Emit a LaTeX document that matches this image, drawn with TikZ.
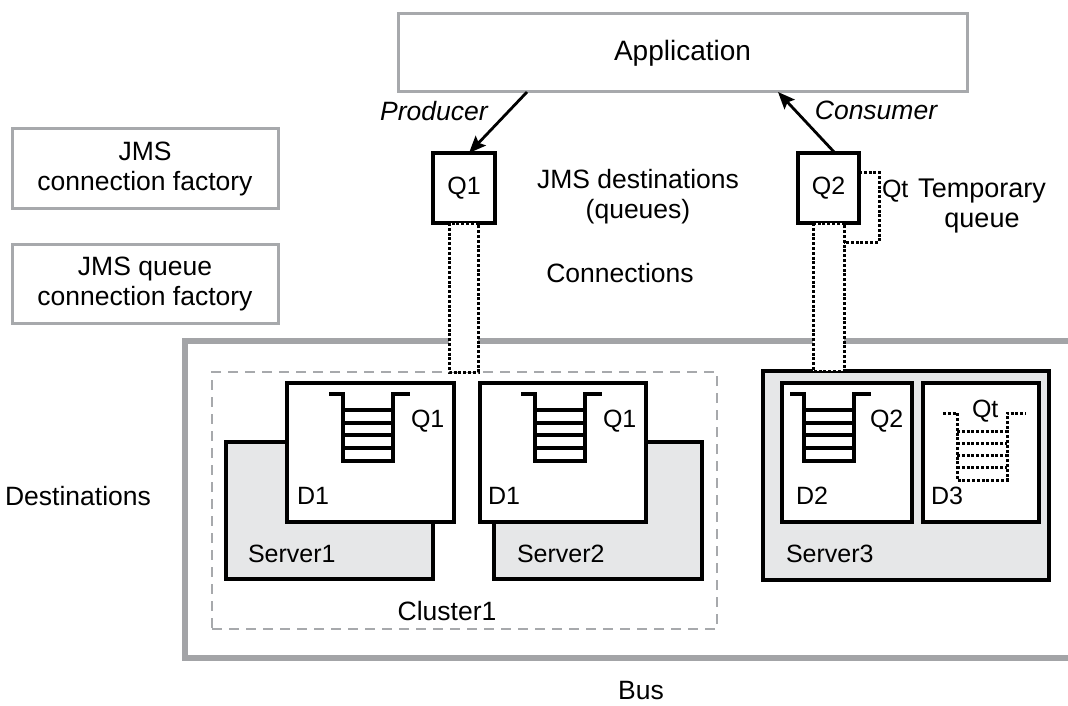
\documentclass[tikz,border=0pt]{standalone}
\usepackage{fontspec}
\setmainfont{Liberation Sans}
\usetikzlibrary{arrows.meta}
\definecolor{boxgray}{RGB}{167,169,172}
\definecolor{busgray}{RGB}{163,164,167}
\definecolor{servergray}{RGB}{230,231,232}
\begin{document}
\begin{tikzpicture}[x=1pt,y=-1pt,
  every node/.style={font=\fontsize{26.5}{30}\selectfont, inner sep=0pt, outer sep=0pt},
  small/.style={font=\fontsize{25}{30}\selectfont},
  big/.style={font=\fontsize{28}{30}\selectfont},
  itlabel/.style={font=\fontsize{26.5}{30}\selectfont\itshape},
  graybox/.style={draw=boxgray, line width=3pt, fill=white, anchor=north west, align=center},
  busbox/.style={draw=busgray, line width=5.5pt, anchor=north west},
  clusterbox/.style={draw=boxgray, line width=2.6pt, dash pattern=on 10pt off 7pt, anchor=north west},
  blackbox/.style={draw=black, line width=3.2pt, fill=white, anchor=north west},
  serverbox/.style={draw=black, line width=3.2pt, fill=servergray, anchor=north west},
  conn/.style={draw=black, line width=3pt, dash pattern=on 3pt off 1.8pt, fill=white},
  dotline/.style={draw=black, line width=3pt, dash pattern=on 3pt off 1.8pt},
  arr/.style={draw=black, line width=2.8pt, -{Stealth[length=17pt,width=14pt,inset=3pt]}},
  queue/.pic={
    \draw (0,0) -- (14,0) -- (14,67) -- (64,67) -- (64,0) -- (81,0);
    \foreach \yy in {16,29,41,54} \draw (14,\yy) -- (64,\yy);
  },
  qline/.style={line width=3.2pt, draw=black},
  qdot/.style={line width=3pt, draw=black, dash pattern=on 3pt off 1.8pt}
]
\useasboundingbox (0,0) rectangle (1068,706);
\clip (0,0) rectangle (1068,706);

% top part
\node[graybox, big, minimum width=569, minimum height=78] (app) at (398,14) {Application};
\node[graybox, minimum width=266, minimum height=79] (jcf) at (12,129) {JMS\\connection factory};
\node[graybox, minimum width=266, minimum height=79] (jqcf) at (12,244) {JMS queue\\connection factory};

\node[blackbox, small, minimum width=62, minimum height=70] (q1) at (433,153) {Q1};
\node[blackbox, small, minimum width=61, minimum height=70] (q2) at (798,153) {Q2};

% bus and cluster
\node[busbox, minimum width=930, minimum height=317] (bus) at (185,341) {};
\node[clusterbox, minimum width=505, minimum height=257] (cluster) at (212,372) {};

\node[serverbox, minimum width=207, minimum height=137] (server1) at (226,442) {};
\node[blackbox, minimum width=167, minimum height=139] (d1a) at (287,383) {};
\node[serverbox, minimum width=208, minimum height=137] (server2) at (494,442) {};
\node[blackbox, minimum width=166, minimum height=139] (d1b) at (480,383) {};
\node[serverbox, minimum width=286, minimum height=209] (server3) at (763,371) {};
\node[blackbox, minimum width=130, minimum height=139] (d2) at (782,383) {};
\node[blackbox, minimum width=116, minimum height=139] (d3) at (923,383) {};

% queue glyphs
\pic[qline] at (329,394) {queue};
\pic[qline] at (521,394) {queue};
\pic[qline] at (790,394) {queue};
\begin{scope}[shift={(943,413)}]
  \draw[qdot] (0,0) -- (14,0) -- (14,67) -- (64,67) -- (64,0) -- (83,0);
  \foreach \yy in {18,30,42,54} \draw[qdot] (14,\yy) -- (64,\yy);
\end{scope}

% labels inside servers
\node[small, anchor=base west] (s1lbl) at (248,562) {Server1};
\node[small, anchor=base west] (s2lbl) at (517,562) {Server2};
\node[small, anchor=base west] (s3lbl) at (786,562) {Server3};
\node[small, anchor=base west] (d1albl) at (297,504) {D1};
\node[small, anchor=base west] (d1blbl) at (488,504) {D1};
\node[small, anchor=base west] (d2lbl) at (796,504) {D2};
\node[small, anchor=base west] (d3lbl) at (931,504) {D3};
\node[small, anchor=base west] (q1albl) at (411,427) {Q1};
\node[small, anchor=base west] (q1blbl) at (603,427) {Q1};
\node[small, anchor=base west] (q2lbl) at (870,427) {Q2};
\node[small, anchor=base west] (qtlbl) at (972,417) {Qt};

% other labels
\node[itlabel, anchor=base] (prod) at (434,121) {Producer};
\node[itlabel, anchor=base] (cons) at (876,120) {Consumer};
\node[align=center] (jmsdest) at (638,197) {JMS destinations\\(queues)};
\node[anchor=base] (connlbl) at (620,282) {Connections};
\node[small, anchor=base west] (qt2) at (882,197) {Qt};
\node[font=\fontsize{27}{30}\selectfont, align=center] (temp) at (982,206) {Temporary\\queue};
\node[anchor=base] (destlbl) at (78,505) {Destinations};
\node[anchor=base] (clusterlbl) at (447,620) {Cluster1};
\node[anchor=base] (buslbl) at (641,699) {Bus};

% connections
\draw[conn] (449,0 |- q1.south) rectangle (478,0 |- cluster.north);
\draw[conn] (813,0 |- q2.south) rectangle (844,0 |- server3.north);
\draw[dotline] (q2.east |- 0,172) -- (879,172) -- (879,242) -- (844,242);

% arrows
\draw[arr] (527,0 |- app.south) -- (469,0 |- q1.north);
\draw[arr] (835,0 |- q2.north) -- (778,0 |- app.south);
\end{tikzpicture}
\end{document}
